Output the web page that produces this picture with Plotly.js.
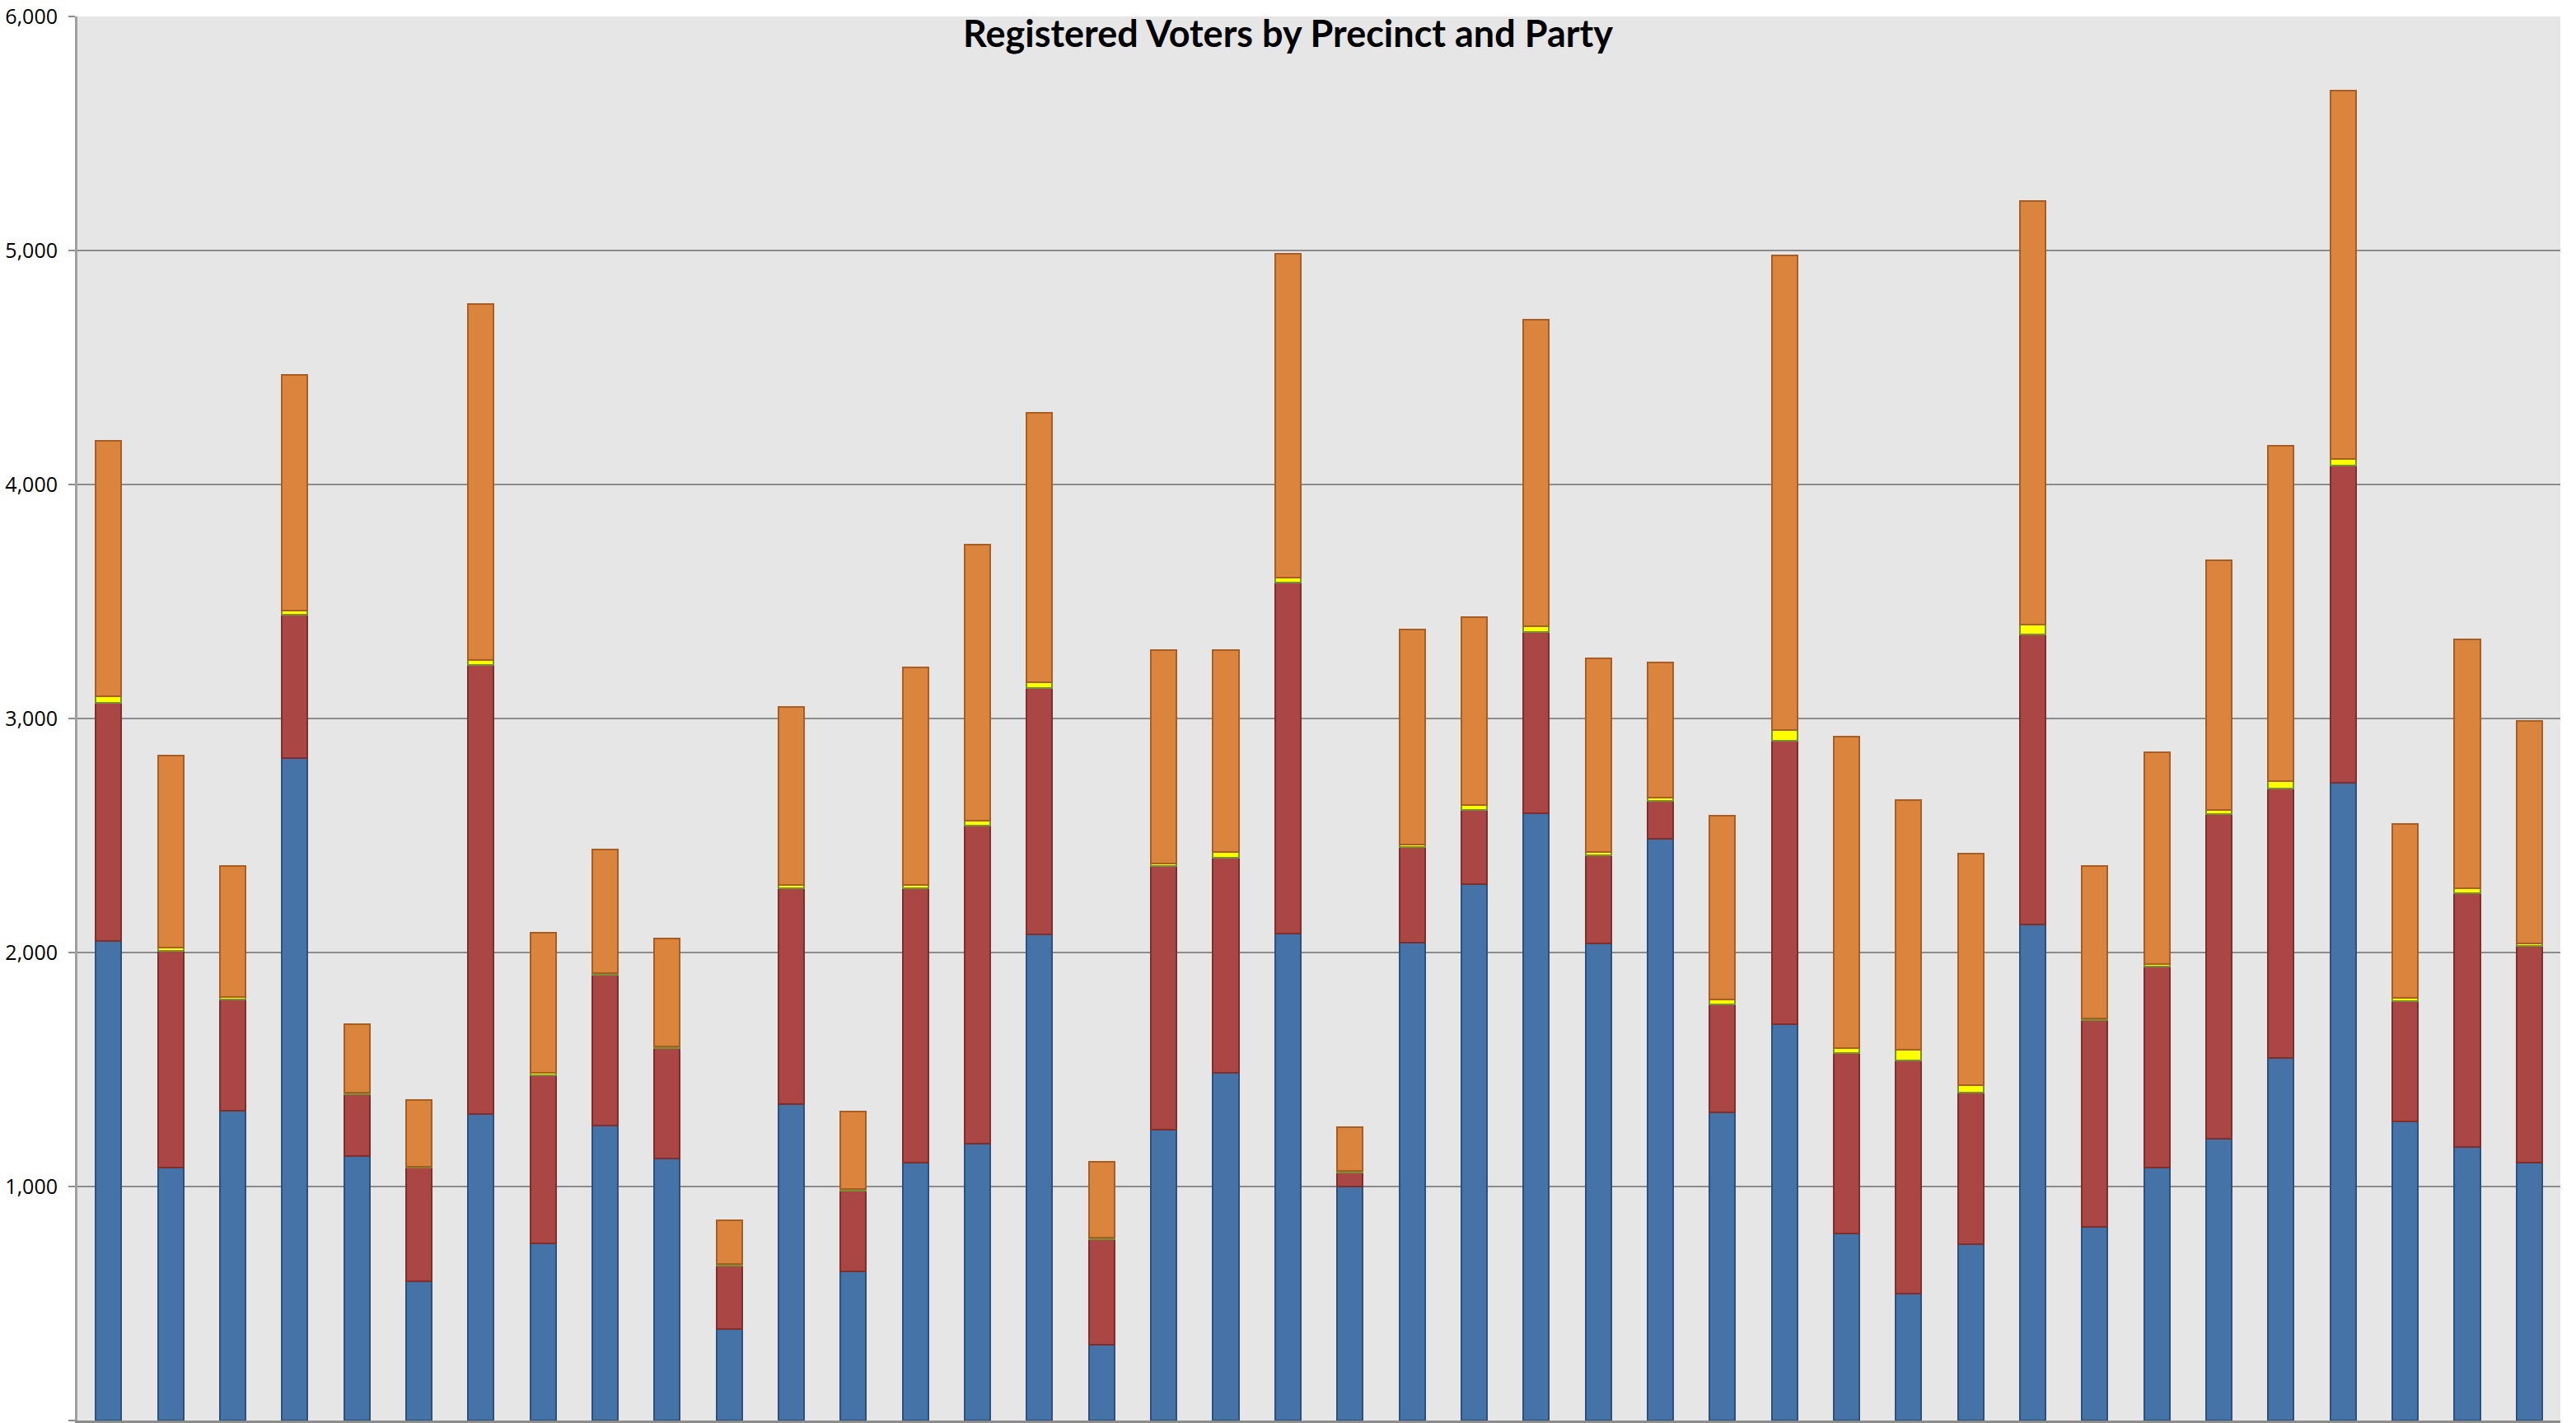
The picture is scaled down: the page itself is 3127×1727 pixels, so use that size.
<!DOCTYPE html>
<html>
<head>
<meta charset="utf-8">
<script src="https://cdn.plot.ly/plotly-3.0.1.min.js"></script>
<style>html,body{margin:0;padding:0;background:#fff;}#chart{width:3127px;height:1727px;}</style>
</head>
<body>
<div id="chart"></div>
<script>
const precincts = ["1","2","3","4","5","6","7","8","9","10","11","12","13","14","15","16","17","18","19","20",
                   "21","22","23","24","25","26","27","28","29","30","31","32","33","34","35","36","37","38","39","40"];
const dem = [2051,1081,1324,2831,1132,596,1309,757,1261,1121,390,1353,636,1103,1184,2077,324,1243,1485,2081,
             1000,2044,2294,2596,2037,2485,1316,1695,798,544,754,2118,827,1081,1206,1548,2724,1279,1169,1103];
const rep = [1015,926,477,614,261,485,1919,717,643,471,272,923,346,1173,1360,1052,452,1128,919,1500,
             59,408,316,772,378,162,463,1209,772,993,647,1242,883,860,1386,1151,1357,515,1085,926];
const lib = [30,15,8,15,7,4,22,11,8,7,7,14,7,14,18,25,7,11,26,22,
             7,8,19,25,15,15,19,45,22,48,33,41,7,11,18,33,29,11,22,11];
const una = [1092,820,562,1007,295,286,1522,600,529,460,188,761,331,927,1181,1151,324,912,864,1382,
             188,919,805,1313,827,577,787,2029,1331,1066,989,1812,651,905,1066,1433,1574,746,1062,949];

const seriesNames = ["Democrat","Republican","Libertarian","Unaffiliated"];
const seriesValues = [dem, rep, lib, una];
const fills = ["#4572A7","#AA4643","#FFFF00","#DB843D"];
const edges = ["#2f507a","#7c2f2d","#7a8f34","#a65e24"];

const traces = seriesValues.map((vals, i) => ({
  type: "bar",
  name: seriesNames[i],
  x: precincts,
  y: vals,
  marker: {color: fills[i], line: {color: edges[i], width: 2}},
  hoverinfo: "x+y+name"
}));

const layout = {
  width: 3127,
  height: 1727,
  barmode: "stack",
  bargap: 0.588,
  showlegend: false,
  paper_bgcolor: "#ffffff",
  plot_bgcolor: "#e6e6e6",
  margin: {l: 94, r: 19, t: 20, b: 3, pad: 0},
  title: {
    text: "<b>Registered Voters by Precinct and Party</b>",
    font: {family: "Lato, 'Open Sans', sans-serif", size: 45, color: "#000"},
    x: 0.5, xref: "container", xanchor: "center",
    y: 1 - 41/1727, yref: "container", yanchor: "middle"
  },
  xaxis: {
    type: "category",
    showticklabels: false,
    ticks: "outside",
    tickson: "boundaries",
    ticklen: 4,
    tickwidth: 2,
    tickcolor: "#8c8c8c",
    showline: true,
    linecolor: "#8c8c8c",
    linewidth: 3,
    showgrid: false,
    zeroline: false,
    fixedrange: true
  },
  yaxis: {
    range: [0, 6000],
    dtick: 1000,
    tick0: 0,
    tickformat: ",d",
    ticks: "outside",
    ticklen: 8,
    tickwidth: 2,
    tickcolor: "#8c8c8c",
    ticklabelstandoff: 8,
    tickfont: {family: "'Open Sans', sans-serif", size: 25, color: "#000"},
    showline: true,
    linecolor: "#a0a0a0",
    linewidth: 3,
    showgrid: true,
    gridcolor: "#8c8c8c",
    gridwidth: 2,
    zeroline: false,
    fixedrange: true
  }
};

Plotly.newPlot("chart", traces, layout, {displayModeBar: false, staticPlot: true});
</script>
</body>
</html>
